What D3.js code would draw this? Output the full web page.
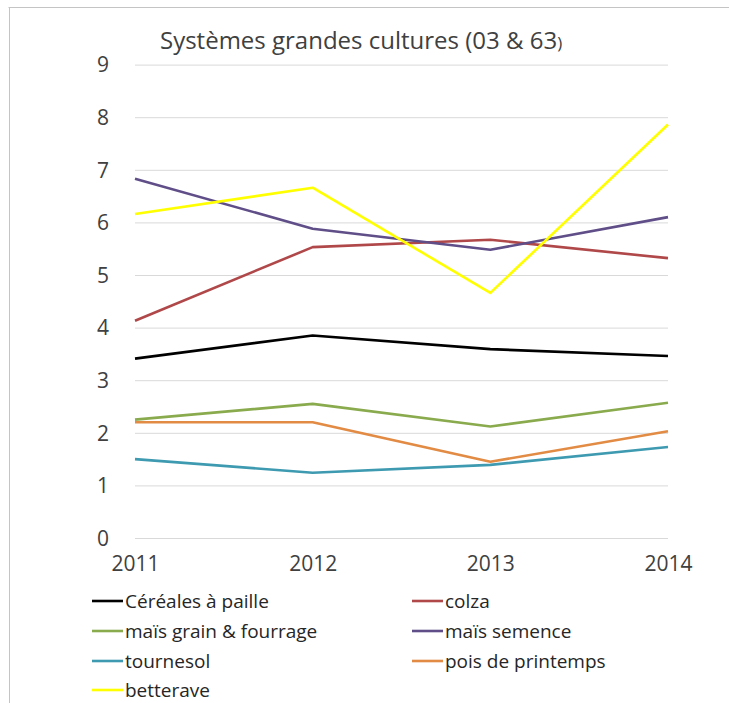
<!DOCTYPE html>
<html>
<head>
<meta charset="utf-8">
<script src="https://cdn.jsdelivr.net/npm/d3@7"></script>
<style>
  html, body { margin: 0; padding: 0; background: #fff; }
  svg { display: block; }
  text { font-family: "Open Sans", "Noto Sans", sans-serif; }
</style>
</head>
<body>
<svg id="chart" width="729" height="703"></svg>
<script>
const years = ["2011", "2012", "2013", "2014"];
const yTicks = [0, 1, 2, 3, 4, 5, 6, 7, 8, 9];
const seriesNames = ["Céréales à paille", "colza", "maïs grain & fourrage", "maïs semence", "tournesol", "pois de printemps", "betterave"];
const cereales = [3.41, 3.85, 3.59, 3.46];
const colza = [4.13, 5.53, 5.67, 5.32];
const maisGrain = [2.25, 2.55, 2.12, 2.57];
const maisSemence = [6.83, 5.88, 5.48, 6.10];
const tournesol = [1.50, 1.24, 1.39, 1.73];
const pois = [2.20, 2.20, 1.45, 2.03];
const betterave = [6.16, 6.66, 4.66, 7.86];
const seriesColors = ["#000000", "#B0484A", "#8AAA4E", "#5F4E88", "#3E9AB0", "#E28B44", "#FFFF00"];

const seriesValues = [cereales, colza, maisGrain, maisSemence, tournesol, pois, betterave];
const series = seriesNames.map((n, i) => ({ name: n, values: seriesValues[i], color: seriesColors[i] }));

const svg = d3.select("#chart");

// frame
svg.append("rect").attr("x", 0).attr("y", 0).attr("width", 729).attr("height", 703).attr("fill", "#fff");
svg.append("line").attr("x1", 8.5).attr("x2", 729).attr("y1", 7.5).attr("y2", 7.5).attr("stroke", "#c4c4c4").attr("stroke-width", 1);
svg.append("line").attr("x1", 9.5).attr("x2", 9.5).attr("y1", 7.5).attr("y2", 703).attr("stroke", "#c4c4c4").attr("stroke-width", 1);

const x = d3.scalePoint().domain(years).range([135, 668]);
const y = d3.scaleLinear().domain([0, 9]).range([538, 64.6]);

// gridlines
const yAxis = d3.axisLeft(y).tickValues(yTicks).tickSize(-(668 - 135)).tickPadding(26).tickFormat(d3.format("d"));
const gy = svg.append("g").attr("transform", "translate(135,0)").call(yAxis);
gy.select(".domain").remove();
gy.selectAll(".tick line").attr("stroke", "#d9d9d9").attr("stroke-width", 1);
gy.selectAll(".tick text").attr("fill", "#404040").style("font-size", "21px").attr("dy", "0.35em");

// x axis labels
const xAxis = d3.axisBottom(x).tickSize(0).tickPadding(18);
const gx = svg.append("g").attr("transform", "translate(0,538)").call(xAxis);
gx.select(".domain").remove();
gx.selectAll(".tick text").attr("fill", "#404040").style("font-size", "21px");

// lines
const line = d3.line().x((d, i) => x(years[i])).y(d => y(d));
svg.append("g").selectAll("path").data(series).join("path")
  .attr("d", d => line(d.values))
  .attr("fill", "none")
  .attr("stroke", d => d.color)
  .attr("stroke-width", 2.6)
  .attr("stroke-linejoin", "round");

// title
const title = svg.append("text").attr("x", 160).attr("y", 49).attr("fill", "#404040").style("font-size", "24px");
title.append("tspan").text("Systèmes grandes cultures (03 & 63");
title.append("tspan").style("font-size", "17px").text(")");

// legend
const legendPos = [[92, 601], [412, 601], [92, 631], [412, 631], [92, 661], [412, 661], [92, 690]];
const lg = svg.append("g").selectAll("g").data(series).join("g")
  .attr("transform", (d, i) => `translate(${legendPos[i][0]},${legendPos[i][1]})`);
lg.append("line").attr("x1", 0).attr("x2", 31).attr("y1", 0).attr("y2", 0)
  .attr("stroke", d => d.color).attr("stroke-width", 2.6);
lg.append("text").attr("x", 33).attr("y", 0).attr("dy", "0.35em")
  .attr("fill", "#262626").style("font-size", "19px").text(d => d.name);
</script>
</body>
</html>
